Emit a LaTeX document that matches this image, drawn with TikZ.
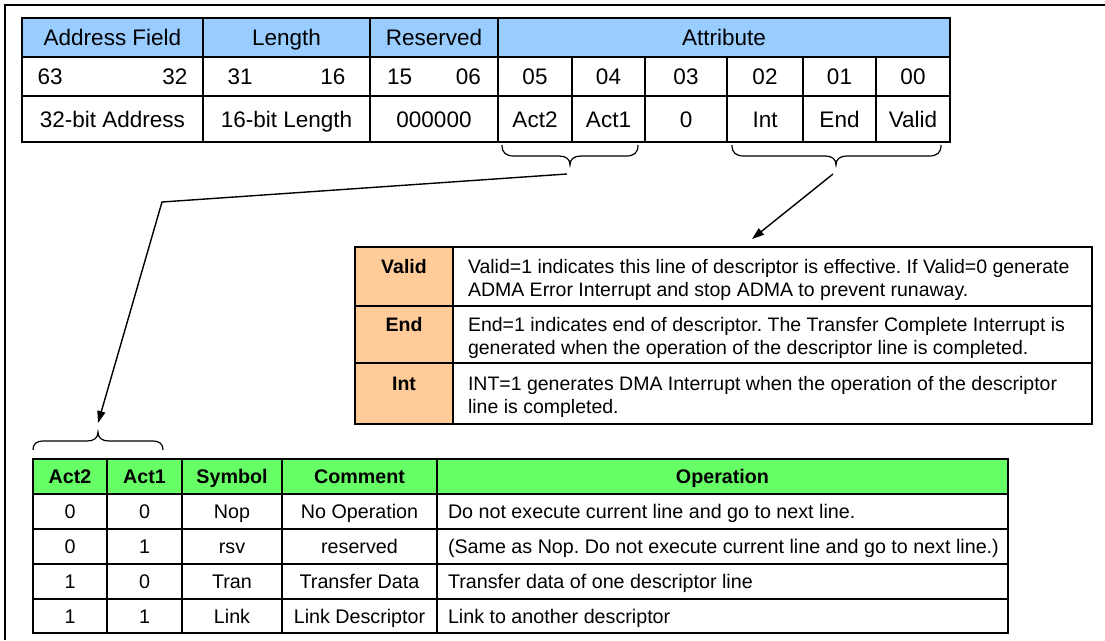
\documentclass[tikz,border=0pt]{standalone}
\usepackage{fontspec}
\setmainfont{Liberation Sans}
\usetikzlibrary{arrows.meta}
\frenchspacing
\definecolor{hdrblue}{HTML}{99CCFF}
\definecolor{hdrgreen}{HTML}{66FF66}
\definecolor{lblorange}{HTML}{FFCC99}
\newcommand\myTopFnt{\fontsize{22.5}{27}\selectfont}
\newcommand\myMidFnt{\fontsize{19.5}{23}\selectfont}
\newcommand\myBotFnt{\fontsize{19.7}{23}\selectfont}
\newcommand\myLine[1]{\makebox[609pt][l]{#1}}
\newcommand\myFirst{\rule{0pt}{23pt}}
\newcommand\cellnode[7]{%
  \pgfmathsetmacro\mycellw{#4-#2}%
  \pgfmathsetmacro\mycellh{#5-#3}%
  \node[cellbox,minimum width=\mycellw pt,minimum height=\mycellh pt,#6] (#1) at ({(#2+#4)/2},{(#3+#5)/2}) {#7};}
\begin{document}
\begin{tikzpicture}[x=1pt,y=-1pt,
  cellbox/.style={draw,line width=1.4pt,inner sep=0pt,outer sep=0pt,rectangle},
  topcell/.style={font=\myTopFnt,text height=16pt,text depth=0pt},
  tophead/.style={topcell,fill=hdrblue},
  botcell/.style={font=\myBotFnt,text height=14pt,text depth=0pt},
  bothead/.style={botcell,font=\myBotFnt\bfseries,fill=hdrgreen},
  lblcell/.style={font=\myMidFnt\bfseries,fill=lblorange,align=center},
  desccell/.style={font=\myMidFnt,align=left},
  tableborder/.style={draw,line width=2.8pt},
  frameline/.style={line width=2pt},
  bracepath/.style={line width=1.2pt},
  conn/.style={line width=1.4pt},
  arrowed/.style={conn,-{Triangle[length=12pt,width=8pt]}}]
\useasboundingbox (0,0) rectangle (1105,640);
% outer frame (cut by the picture edge)
\draw[frameline] (5,640) -- (5,5) -- (1105,5);

% ---------------- top descriptor table ----------------
\cellnode{hAddr}{22}{18}{203}{57}{tophead}{Address Field}
\cellnode{hLen}{203}{18}{370}{57}{tophead}{Length}
\cellnode{hRes}{370}{18}{498}{57}{tophead}{Reserved}
\cellnode{hAttr}{498}{18}{950}{57}{tophead}{Attribute}
\cellnode{bAddr}{22}{57}{203}{96}{topcell}{\makebox[150pt]{63\hfill 32}}
\cellnode{bLen}{203}{57}{370}{96}{topcell}{\makebox[118pt]{31\hfill 16}}
\cellnode{bRes}{370}{57}{498}{96}{topcell}{\makebox[94pt]{15\hfill 06}}
\cellnode{bFive}{498}{57}{572}{96}{topcell}{05}
\cellnode{bFour}{572}{57}{645}{96}{topcell}{04}
\cellnode{bThree}{645}{57}{727}{96}{topcell}{03}
\cellnode{bTwo}{727}{57}{803}{96}{topcell}{02}
\cellnode{bOne}{803}{57}{876}{96}{topcell}{01}
\cellnode{bZero}{876}{57}{950}{96}{topcell}{00}
\cellnode{vAddr}{22}{96}{203}{142}{topcell}{32-bit Address}
\cellnode{vLen}{203}{96}{370}{142}{topcell}{16-bit Length}
\cellnode{vRes}{370}{96}{498}{142}{topcell}{000000}
\cellnode{vFive}{498}{96}{572}{142}{topcell}{Act2}
\cellnode{vFour}{572}{96}{645}{142}{topcell}{Act1}
\cellnode{vThree}{645}{96}{727}{142}{topcell}{0}
\cellnode{vTwo}{727}{96}{803}{142}{topcell}{Int}
\cellnode{vOne}{803}{96}{876}{142}{topcell}{End}
\cellnode{vZero}{876}{96}{950}{142}{topcell}{Valid}
\draw[tableborder] (hAddr.north west) rectangle (vZero.south east);

% braces under the top table
\draw[bracepath] (502,145) .. controls (502,153) and (506,156) .. (514,156) -- (559,156)
  .. controls (566,156) and (570,159) .. (570,165)
  .. controls (570,159) and (574,156) .. (581,156) -- (626,156)
  .. controls (634,156) and (638,153) .. (638,145);
\draw[bracepath] (732,145) .. controls (732,153) and (736,156) .. (744,156) -- (825,156)
  .. controls (832,156) and (836,159) .. (836,165)
  .. controls (836,159) and (840,156) .. (847,156) -- (929,156)
  .. controls (937,156) and (941,153) .. (941,145);

% ---------------- Valid / End / Int table ----------------
\cellnode{lValid}{355}{247}{453}{306}{lblcell}{\myFirst Valid\\\strut}
\cellnode{dValid}{453}{247}{1092}{306}{desccell}{\myLine{\myFirst Valid=1 indicates this line of descriptor is effective. If Valid=0 generate}\\\myLine{ADMA Error Interrupt and stop ADMA to prevent runaway.\strut}}
\cellnode{lEnd}{355}{306}{453}{363}{lblcell}{\myFirst End\\\strut}
\cellnode{dEnd}{453}{306}{1092}{363}{desccell}{\myLine{\myFirst End=1 indicates end of descriptor. The Transfer Complete Interrupt is}\\\myLine{generated when the operation of the descriptor line is completed.\strut}}
\cellnode{lInt}{355}{363}{453}{424}{lblcell}{\myFirst Int\\\strut}
\cellnode{dInt}{453}{363}{1092}{424}{desccell}{\myLine{\myFirst INT=1 generates DMA Interrupt when the operation of the descriptor}\\\myLine{line is completed.\strut}}
\draw[tableborder] (lValid.north west) rectangle (dInt.south east);

% ---------------- Act table ----------------
\draw[bracepath] (33,450) .. controls (33,444) and (36,441) .. (44,441) -- (87,441)
  .. controls (94,441) and (98,438) .. (98,432)
  .. controls (98,438) and (102,441) .. (109,441) -- (152,441)
  .. controls (160,441) and (163,444) .. (163,450);

\cellnode{hActB}{33}{459}{107}{494}{bothead}{Act2}
\cellnode{hActA}{107}{459}{182}{494}{bothead}{Act1}
\cellnode{hSym}{182}{459}{282}{494}{bothead}{Symbol}
\cellnode{hCom}{282}{459}{437}{494}{bothead}{Comment}
\cellnode{hOp}{437}{459}{1008}{494}{bothead}{Operation}

\cellnode{rAB}{33}{494}{107}{529}{botcell}{0}
\cellnode{rAA}{107}{494}{182}{529}{botcell}{0}
\cellnode{rAS}{182}{494}{282}{529}{botcell}{Nop}
\cellnode{rAC}{282}{494}{437}{529}{botcell}{No Operation}
\cellnode{rAO}{437}{494}{1008}{529}{botcell}{\makebox[549pt][l]{Do not execute current line and go to next line.}}

\cellnode{rBB}{33}{529}{107}{564}{botcell}{0}
\cellnode{rBA}{107}{529}{182}{564}{botcell}{1}
\cellnode{rBS}{182}{529}{282}{564}{botcell}{rsv}
\cellnode{rBC}{282}{529}{437}{564}{botcell}{reserved}
\cellnode{rBO}{437}{529}{1008}{564}{botcell}{\makebox[549pt][l]{(Same as Nop. Do not execute current line and go to next line.)}}

\cellnode{rCB}{33}{564}{107}{599}{botcell}{1}
\cellnode{rCA}{107}{564}{182}{599}{botcell}{0}
\cellnode{rCS}{182}{564}{282}{599}{botcell}{Tran}
\cellnode{rCC}{282}{564}{437}{599}{botcell}{Transfer Data}
\cellnode{rCO}{437}{564}{1008}{599}{botcell}{\makebox[549pt][l]{Transfer data of one descriptor line}}

\cellnode{rDB}{33}{599}{107}{633}{botcell}{1}
\cellnode{rDA}{107}{599}{182}{633}{botcell}{1}
\cellnode{rDS}{182}{599}{282}{633}{botcell}{Link}
\cellnode{rDC}{282}{599}{437}{633}{botcell}{Link Descriptor}
\cellnode{rDO}{437}{599}{1008}{633}{botcell}{\makebox[549pt][l]{Link to another descriptor}}
\draw[tableborder] (hActB.north west) rectangle (rDO.south east);

% ---------------- connectors ----------------
\coordinate (actTip) at (567,174);
\coordinate (actBend) at (162,202);
\coordinate (actEnd) at (98,423);
\draw[arrowed] (actTip) -- (actBend) -- (actEnd);
\coordinate (flagTip) at (833,174);
\coordinate (flagEnd) at (752,239);
\draw[arrowed] (flagTip) -- (flagEnd);
\end{tikzpicture}
\end{document}
